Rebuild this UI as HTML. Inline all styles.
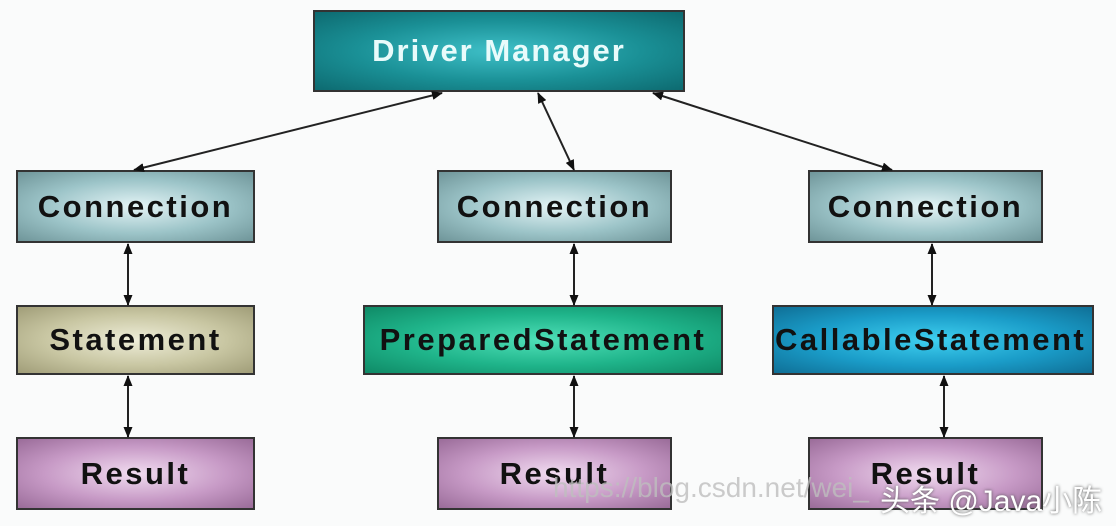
<!DOCTYPE html>
<html><head><meta charset="utf-8"><style>
body{margin:0;width:1116px;height:526px;background:#fafbfb;position:relative;overflow:hidden;font-family:"Liberation Sans",Arial,sans-serif}
.b{position:absolute;box-sizing:border-box;border:2px solid #333;display:flex;align-items:center;justify-content:center;font-weight:bold;font-size:31px;letter-spacing:2.5px;color:#111;white-space:nowrap;overflow:hidden}
.c{background:radial-gradient(ellipse at center,#e4f4f6 0%,#9cc4c8 55%,#6f9599 100%)}
.r{background:radial-gradient(ellipse at center,#f1dcf0 0%,#c79ac6 55%,#9a6c99 100%)}
svg{position:absolute;left:0;top:0}
</style></head><body>
<div class="b" style="left:313px;top:10px;width:372px;height:82px;background:radial-gradient(ellipse at center,#3fc0c8 0%,#1a9096 55%,#0d6a70 100%);color:#e8fbfb;font-size:31px;letter-spacing:2px">Driver Manager</div>
<div class="b c" style="left:16px;top:170px;width:239px;height:73px">Connection</div>
<div class="b c" style="left:437px;top:170px;width:235px;height:73px">Connection</div>
<div class="b c" style="left:808px;top:170px;width:235px;height:73px">Connection</div>
<div class="b" style="left:16px;top:305px;width:239px;height:70px;background:radial-gradient(ellipse at center,#eeedd8 0%,#c8c6a2 55%,#a09d78 100%)">Statement</div>
<div class="b" style="left:363px;top:305px;width:360px;height:70px;background:radial-gradient(ellipse at center,#4fe0b8 0%,#1fb48a 55%,#0f8a66 100%)">PreparedStatement</div>
<div class="b" style="left:772px;top:305px;width:322px;height:70px;background:radial-gradient(ellipse at center,#3fd0f0 0%,#1a9cc8 55%,#0f6f96 100%);justify-content:flex-start;padding-left:1px;letter-spacing:2.5px">CallableStatement</div>
<div class="b r" style="left:16px;top:437px;width:239px;height:73px">Result</div>
<div class="b r" style="left:437px;top:437px;width:235px;height:73px">Result</div>
<div class="b r" style="left:808px;top:437px;width:235px;height:73px">Result</div>
<svg width="1116" height="526"><defs><marker id="a" markerWidth="11" markerHeight="9" refX="10" refY="4.5" orient="auto-start-reverse" markerUnits="userSpaceOnUse"><path d="M0,0L11,4.5L0,9z" fill="#111"/></marker></defs>
<g stroke="#222" stroke-width="2" marker-start="url(#a)" marker-end="url(#a)">
<line x1="442" y1="93" x2="134" y2="170"/>
<line x1="538" y1="93" x2="574" y2="170"/>
<line x1="653" y1="93" x2="892" y2="170"/>
<line x1="128" y1="244" x2="128" y2="305"/>
<line x1="128" y1="376" x2="128" y2="437"/>
<line x1="574" y1="244" x2="574" y2="305"/>
<line x1="574" y1="376" x2="574" y2="437"/>
<line x1="932" y1="244" x2="932" y2="305"/>
<line x1="944" y1="376" x2="944" y2="437"/>
</g></svg>
<div style="position:absolute;left:553px;top:472px;font-size:28px;color:rgba(190,190,190,0.8)">https://blog.csdn.net/wei_</div>
<div style="position:absolute;left:880px;top:476px;font-size:30px;color:#fff;text-shadow:0 0 3px #555;font-family:'Liberation Sans','Noto Sans CJK SC',sans-serif">头条 @Java小陈</div>
</body></html>
